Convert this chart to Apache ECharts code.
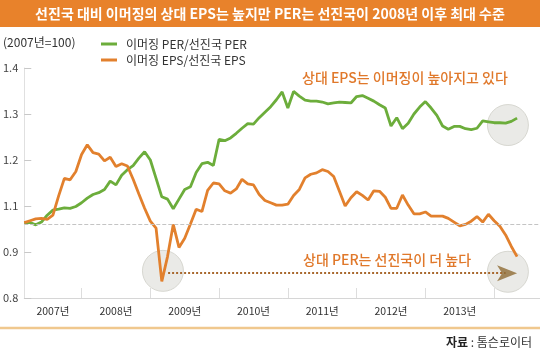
<!DOCTYPE html>
<html><head><meta charset="utf-8">
<script src="https://cdn.jsdelivr.net/npm/echarts@6/dist/echarts.min.js"></script>
<style>html,body{margin:0;padding:0;background:#fff}#c{width:540px;height:358px}</style>
</head><body><div id="c"></div>
<script>
// ---- data ----
const months = [];
for (let y = 2007, m = 3; !(y === 2014 && m === 10);) {
  months.push(y + '-' + String(m).padStart(2, '0'));
  m++; if (m > 12) { m = 1; y++; }
}
const yearLabelMonths = ['2007-08', '2008-07', '2009-07', '2010-07', '2011-07', '2012-07', '2013-07'];
const yearLabels = ['2007년', '2008년', '2009년', '2010년', '2011년', '2012년', '2013년'];
const yTickValues = [0.9, 1.0, 1.1, 1.2, 1.3, 1.4];
const yTickLabels = ['0.8', '0.9', '1.1', '1.2', '1.3', '1.4'];

const perRatio = [1.064,1.064,1.059,1.065,1.080,1.091,1.093,1.096,1.095,1.099,
  1.107,1.117,1.125,1.129,1.136,1.154,1.146,1.167,1.179,1.188,
  1.204,1.218,1.200,1.160,1.120,1.115,1.094,1.115,1.136,1.142,
  1.173,1.192,1.195,1.188,1.245,1.242,1.248,1.258,1.269,1.279,
  1.278,1.292,1.304,1.316,1.331,1.348,1.313,1.349,1.339,1.330,
  1.328,1.328,1.326,1.322,1.324,1.326,1.325,1.324,1.338,1.340,
  1.334,1.328,1.320,1.313,1.274,1.292,1.268,1.280,1.300,1.315,
  1.327,1.313,1.297,1.274,1.267,1.273,1.273,1.268,1.266,1.269,
  1.285,1.283,1.281,1.281,1.280,1.284,1.291];
const epsRatio = [1.064,1.068,1.072,1.073,1.071,1.080,1.122,1.160,1.157,1.175,
  1.212,1.233,1.216,1.213,1.198,1.206,1.186,1.192,1.187,1.158,
  1.126,1.095,1.067,1.052,0.936,0.990,1.060,1.010,1.030,1.061,
  1.093,1.088,1.134,1.150,1.148,1.133,1.128,1.137,1.158,1.148,
  1.146,1.125,1.112,1.107,1.102,1.102,1.104,1.123,1.136,1.161,
  1.169,1.172,1.179,1.175,1.164,1.132,1.100,1.118,1.131,1.123,
  1.113,1.133,1.132,1.119,1.095,1.095,1.124,1.102,1.083,1.083,
  1.087,1.078,1.078,1.078,1.073,1.065,1.057,1.060,1.067,1.077,
  1.065,1.082,1.068,1.056,1.037,1.012,0.990];
const baseline = 1.065;
const highlightCircles = [[24.2, 0.959], [84.4, 0.957], [84.4, 1.276]];
const arrowFrom = 25.1, arrowTo = 84.0, arrowTip = 86.0, arrowLevel = 0.954;

// ---- chart ----
const FONT = "'Noto Sans CJK KR', 'Noto Sans', sans-serif";
const janIdx = months.map((m, i) => m.endsWith('-01') ? i : -1).filter(i => i >= 0);
const labelIdx = yearLabelMonths.map(m => months.indexOf(m));
const chart = echarts.init(document.getElementById('c'), null, {renderer: 'canvas'});
chart.setOption({
  animation: false,
  textStyle: {fontFamily: FONT},
  grid: {left: 23, right: 0, top: 68, bottom: 60},
  legend: {
    left: 96, top: 33, orient: 'vertical', icon: 'rect', itemWidth: 16, itemHeight: 3, itemGap: 4,
    textStyle: {fontFamily: FONT, fontSize: 12, color: '#333', padding: [0, 0, 0, 4]},
    data: ['이머징 PER/선진국 PER', '이머징 EPS/선진국 EPS']
  },
  xAxis: {
    type: 'value', min: 0, max: months.length - 1,
    splitLine: {show: false},
    axisLine: {show: true, lineStyle: {color: '#d6d6d6', width: 1}},
    axisTick: {show: true, customValues: janIdx, inside: true, length: 10, lineStyle: {color: '#dddddd'}},
    axisLabel: {customValues: labelIdx, formatter: v => yearLabels[labelIdx.indexOf(v)] || '',
      fontFamily: "'Liberation Sans Narrow', " + FONT, fontSize: 10.5, color: '#333', margin: 8}
  },
  yAxis: {
    type: 'value', min: 0.9, max: 1.4, interval: 0.1,
    splitLine: {show: false},
    axisLine: {show: true, lineStyle: {color: '#e0e0e0'}},
    axisTick: {show: true, inside: true, length: 7, lineStyle: {color: '#c8c8c8'}},
    axisLabel: {formatter: v => yTickLabels[yTickValues.findIndex(t => Math.abs(t - v) < 1e-6)],
      fontFamily: "'Liberation Sans Narrow', " + FONT, fontSize: 11, color: '#444', margin: 6}
  },
  series: [
    {
      name: 'highlight', type: 'scatter', z: 1, silent: true,
      data: highlightCircles, symbolSize: 41,
      itemStyle: {color: 'rgba(212,212,205,0.6)', borderColor: '#cfcfc8', borderWidth: 1}
    },
    {
      name: '이머징 PER/선진국 PER', type: 'line', z: 3, showSymbol: false,
      data: perRatio.map((v, i) => [i, v]),
      lineStyle: {width: 2.8, color: '#6CAD3B'}, itemStyle: {color: '#6CAD3B'},
      markLine: {silent: true, symbol: 'none', label: {show: false},
        lineStyle: {type: 'dashed', color: '#c4c4c4', width: 1},
        data: [{yAxis: baseline}]}
    },
    {
      name: '이머징 EPS/선진국 EPS', type: 'line', z: 4, showSymbol: false,
      data: epsRatio.map((v, i) => [i, v]),
      lineStyle: {width: 2.8, color: '#E2802D'}, itemStyle: {color: '#E2802D'},
      markLine: {silent: true, symbol: 'none', label: {show: false},
        lineStyle: {type: 'dotted', color: '#A8682E', width: 2},
        data: [[{coord: [arrowFrom, arrowLevel]}, {coord: [arrowTo, arrowLevel]}]]}
    },
    {
      name: 'arrow', type: 'scatter', z: 5, silent: true,
      data: [[arrowTip, arrowLevel]], symbol: 'arrow', symbolRotate: -90, symbolSize: [12, 20],
      itemStyle: {color: '#8F6B34'}
    }
  ],
  graphic: [
    {type: 'rect', shape: {x: 0, y: 0, width: 540, height: 27}, style: {fill: '#E8822B'}},
    {type: 'text', x: 270, y: 14, style: {text: '선진국 대비 이머징의 상대 EPS는 높지만 PER는 선진국이 2008년 이후 최대 수준',
      align: 'center', verticalAlign: 'middle', fill: '#fff', font: 'bold 14px ' + FONT}},
    {type: 'text', x: 3, y: 42, style: {text: '(2007년=100)', verticalAlign: 'middle', fill: '#333', font: '12px ' + FONT}},
    {type: 'text', x: 302, y: 78, style: {text: '상대 EPS는 이머징이 높아지고 있다', verticalAlign: 'middle', fill: '#E0782A', font: '500 14px ' + FONT}},
    {type: 'text', x: 303, y: 260, style: {text: '상대 PER는 선진국이 더 높다', verticalAlign: 'middle', fill: '#E0782A', font: '500 14px ' + FONT}},
    {type: 'line', shape: {x1: 0, y1: 328, x2: 540, y2: 328}, style: {stroke: '#F0C88E', lineWidth: 2.5}},
    {type: 'text', right: 8, y: 336, style: {
      text: '{b|자료} : 톰슨로이터', fill: '#333', font: '12px ' + FONT,
      rich: {b: {fontWeight: 'bold', fontSize: 12, fontFamily: FONT, fill: '#222'}}}}
  ]
});
</script></body></html>
